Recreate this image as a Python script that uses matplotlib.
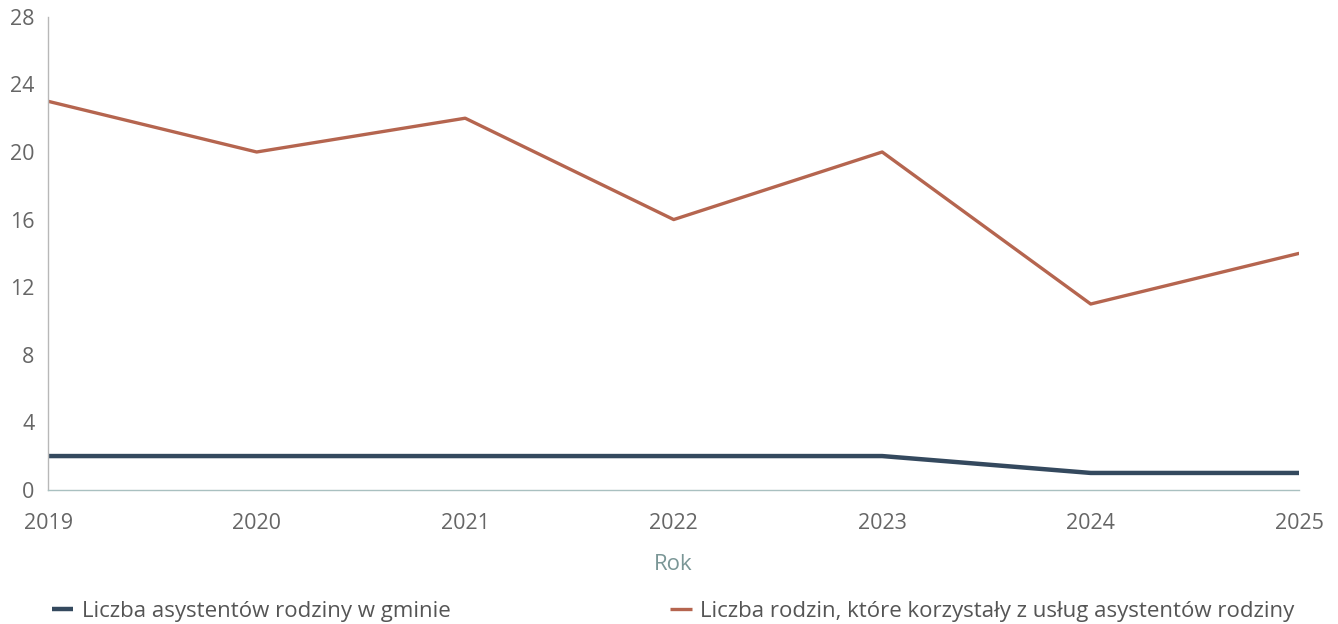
import numpy as np
import matplotlib.pyplot as plt

plt.rcParams['font.family'] = ['Open Sans', 'DejaVu Sans']

years = [2019, 2020, 2021, 2022, 2023, 2024, 2025]
asystenci = [2, 2, 2, 2, 2, 1, 1]
rodziny = [23, 20, 22, 16, 20, 11, 14]

fig = plt.figure(figsize=(13.38, 6.24), dpi=100)
ax = fig.add_axes([0.036, 0.215, 0.935, 0.758])

ax.plot(years, asystenci, color='#34495e', lw=3.2, solid_capstyle='butt',
        label='Liczba asystentów rodziny w gminie')
ax.plot(years, rodziny, color='#b5654f', lw=2.4, solid_capstyle='butt',
        label='Liczba rodzin, które korzystały z usług asystentów rodziny')

ax.set_xlim(2019, 2025)
ax.set_ylim(0, 28)
ax.set_yticks(np.arange(0, 29, 4))
ax.set_xticks(years)
ax.tick_params(length=0, labelsize=15.5, colors='#666666')
ax.tick_params(axis='y', pad=10)
ax.tick_params(axis='x', pad=17)

for s in ['top', 'right']:
    ax.spines[s].set_visible(False)
ax.spines['left'].set_color('#b8b8b8')
ax.spines['bottom'].set_color('#a9c0c0')
ax.spines['left'].set_linewidth(1.0)
ax.spines['bottom'].set_linewidth(1.0)

ax.set_xlabel('Rok', fontsize=16, color='#7a9696', labelpad=14)

fig.legend(loc='lower left', bbox_to_anchor=(0.037, 0.0), ncol=2,
           frameon=False, fontsize=16, labelcolor='#555555', borderpad=0.1,
           borderaxespad=0, handlelength=0.95, handletextpad=0.4,
           columnspacing=9.9)

fig.savefig('out.png', dpi=100)
